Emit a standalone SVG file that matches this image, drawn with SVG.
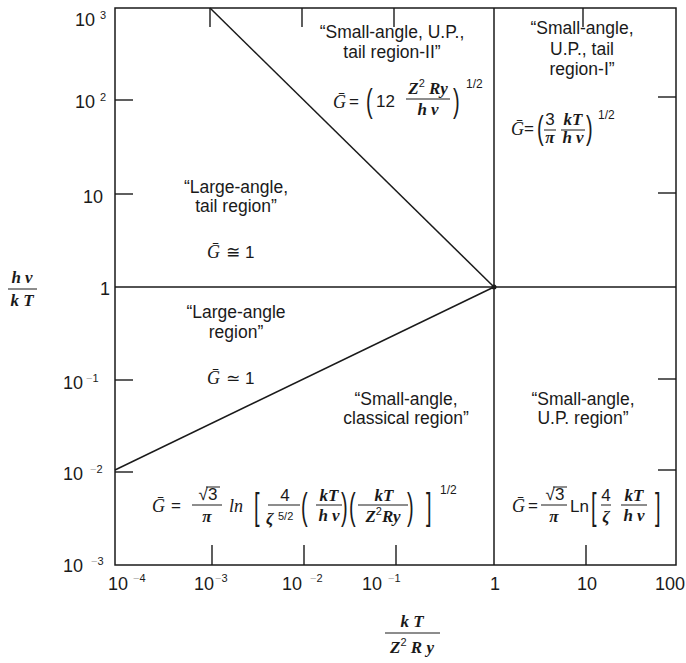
<svg xmlns="http://www.w3.org/2000/svg" width="686" height="663" viewBox="0 0 686 663">
<style>
.ln{stroke:#1a1a1a;stroke-width:1.5;fill:none}
.tk line{stroke:#1a1a1a;stroke-width:1.4}
text{fill:#1a1a1a}
.ax{font-family:"Liberation Sans",Arial,sans-serif;font-size:18px}
.sp{font-family:"Liberation Sans",Arial,sans-serif;font-size:11px}
.fm{fill:#b0b0b0}
.lb{font-family:"Liberation Sans",Arial,sans-serif;font-size:17.5px;text-anchor:middle}
.mi{font-family:"Liberation Serif","Times New Roman",serif;font-style:italic;font-weight:bold;font-size:17px}
.g{font-family:"Liberation Serif","DejaVu Serif",serif;font-style:italic;font-size:18px}
.n{font-family:"Liberation Sans","DejaVu Sans",sans-serif;font-size:17px}
.c{text-anchor:middle}
.br{font-family:"Liberation Sans",Arial,sans-serif;font-size:20px}
.ex{font-family:"Liberation Sans",Arial,sans-serif;font-size:11px;font-style:normal;font-weight:normal}
.fl{stroke:#1a1a1a;stroke-width:1}
</style>

<g id="frame">
<rect x="115" y="8" width="561" height="557" class="ln"/>
</g>

<g id="connectors" class="ln">
<line x1="494" y1="8" x2="494" y2="565"/>
<line x1="115" y1="287" x2="676" y2="287"/>
<line x1="210" y1="8" x2="494" y2="287"/>
<line x1="115" y1="470" x2="494" y2="287"/>
<circle cx="494" cy="287" r="2.5" fill="#1a1a1a" stroke="none"/>
</g>

<g id="ticks" class="tk">
<line x1="115" y1="100" x2="133" y2="100"/>
<line x1="115" y1="194" x2="133" y2="194"/>
<line x1="115" y1="380" x2="133" y2="380"/>
<line x1="115" y1="472" x2="133" y2="472"/>
<line x1="676" y1="97" x2="658" y2="97"/>
<line x1="676" y1="193" x2="658" y2="193"/>
<line x1="676" y1="379" x2="658" y2="379"/>
<line x1="676" y1="470" x2="658" y2="470"/>
<line x1="210" y1="8" x2="210" y2="27"/>
<line x1="302" y1="8" x2="302" y2="27"/>
<line x1="394" y1="8" x2="394" y2="27"/>
<line x1="583" y1="8" x2="583" y2="27"/>
<line x1="212" y1="565" x2="212" y2="545"/>
<line x1="304" y1="565" x2="304" y2="545"/>
<line x1="396" y1="565" x2="396" y2="545"/>
<line x1="586" y1="565" x2="586" y2="545"/>
</g>

<g id="y-axis-labels">
<text class="ax" x="75" y="26">10</text><text class="sp" x="100" y="19">3</text>
<text class="ax" x="75" y="108">10</text><text class="sp" x="100" y="101">2</text>
<text class="ax" x="83" y="203">10</text>
<text class="ax" x="100" y="295">1</text>
<text class="ax" x="63" y="389">10</text><text class="sp" x="86" y="382"><tspan class="fm">−</tspan>1</text>
<text class="ax" x="63" y="480">10</text><text class="sp" x="90" y="473"><tspan class="fm">−</tspan>2</text>
<text class="ax" x="63" y="572">10</text><text class="sp" x="91" y="565"><tspan class="fm">−</tspan>3</text>
</g>

<g id="x-axis-labels">
<text class="ax" x="108" y="590">10</text><text class="sp" x="133" y="582"><tspan class="fm">−</tspan>4</text>
<text class="ax" x="194" y="590">10</text><text class="sp" x="215" y="582"><tspan class="fm">−</tspan>3</text>
<text class="ax" x="282" y="590">10</text><text class="sp" x="310" y="582"><tspan class="fm">−</tspan>2</text>
<text class="ax" x="362" y="590">10</text><text class="sp" x="388" y="582"><tspan class="fm">−</tspan>1</text>
<text class="ax" x="490" y="590">1</text>
<text class="ax" x="577" y="590">10</text>
<text class="ax" x="655" y="590">100</text>
</g>

<g id="y-axis-title">
<text class="mi c" x="22" y="283">h ν</text>
<line class="fl" x1="8" y1="289" x2="37" y2="289"/>
<text class="mi c" x="22" y="306">k T</text>
</g>

<g id="x-axis-title">
<text class="mi c" x="412" y="627">k T</text>
<line class="fl" x1="385" y1="633" x2="440" y2="633"/>
<text class="mi c" x="412" y="653">Z<tspan class="ex" dy="-7">2</tspan><tspan dy="7"> R y</tspan></text>
</g>

<g id="region-small-angle-up-tail-II">
<text class="lb" x="392" y="38">“Small-angle, U.P.,</text>
<text class="lb" x="392" y="58">tail region-II”</text>
<text class="g" x="333" y="108">Ḡ</text>
<text class="n" x="349" y="107">=</text>
<text class="br" transform="translate(366,112) scale(1,1.7)">(</text>
<text class="n" x="376" y="107">12</text>
<text class="mi c" x="428" y="94">Z<tspan class="ex" dy="-7">2</tspan><tspan dy="7"> Ry</tspan></text>
<line class="fl" x1="406" y1="99" x2="450" y2="99"/>
<text class="mi c" x="428" y="115">h ν</text>
<text class="br" transform="translate(453,112) scale(1,1.7)">)</text>
<text class="ex" x="466" y="88" style="font-size:12px">1/2</text>
</g>

<g id="region-small-angle-up-tail-I">
<text class="lb" x="582" y="34">“Small-angle,</text>
<text class="lb" x="582" y="55">U.P., tail</text>
<text class="lb" x="582" y="75">region-I”</text>
<text class="g" x="511" y="135">Ḡ</text>
<text class="n" x="524" y="134">=</text>
<text class="br" transform="translate(537,139) scale(1,1.7)">(</text>
<text class="n c" x="550" y="125">3</text>
<line class="fl" x1="544" y1="130" x2="556" y2="130"/>
<text class="mi c" x="550" y="143">π</text>
<text class="mi c" x="573" y="125">kT</text>
<line class="fl" x1="561" y1="130" x2="585" y2="130"/>
<text class="mi c" x="573" y="143">h ν</text>
<text class="br" transform="translate(586,139) scale(1,1.7)">)</text>
<text class="ex" x="598" y="119" style="font-size:12px">1/2</text>
</g>

<g id="region-large-angle-tail">
<text class="lb" x="236" y="193">“Large-angle,</text>
<text class="lb" x="236" y="212">tail region”</text>
<text x="207" y="258"><tspan class="g">Ḡ</tspan><tspan class="n" dx="6">≅ 1</tspan></text>
</g>

<g id="region-large-angle">
<text class="lb" x="236" y="318">“Large-angle</text>
<text class="lb" x="236" y="338">region”</text>
<text x="207" y="384"><tspan class="g">Ḡ</tspan><tspan class="n" dx="6">≃ 1</tspan></text>
</g>

<g id="region-small-angle-classical">
<text class="lb" x="406" y="405">“Small-angle,</text>
<text class="lb" x="406" y="424">classical region”</text>
<text class="g" x="152" y="512">Ḡ</text>
<text class="n" x="171" y="511">=</text>
<text class="n c" x="208" y="500">√3</text>
<line class="fl" x1="206" y1="487" x2="220" y2="487"/>
<line class="fl" x1="192" y1="505" x2="222" y2="505"/>
<text class="mi c" x="207" y="522">π</text>
<text class="g" x="229" y="512">ln</text>
<text class="br" transform="translate(254,519) scale(1,1.8)">[</text>
<text class="n c" x="285" y="501">4</text>
<line class="fl" x1="268" y1="505" x2="300" y2="505"/>
<text class="mi" x="266" y="524">ζ</text>
<text class="ex" x="278" y="520">5/2</text>
<text class="br" transform="translate(301,519) scale(1,1.8)">(</text>
<text class="mi c" x="329" y="501">kT</text>
<line class="fl" x1="316" y1="505" x2="342" y2="505"/>
<text class="mi c" x="329" y="521">h ν</text>
<text class="br" transform="translate(341,519) scale(1,1.8)">)</text>
<text class="br" transform="translate(349,519) scale(1,1.8)">(</text>
<text class="mi c" x="384" y="501">kT</text>
<line class="fl" x1="358" y1="505" x2="408" y2="505"/>
<text class="mi c" x="383" y="522">Z<tspan class="ex" dy="-7">2</tspan><tspan dy="7">Ry</tspan></text>
<text class="br" transform="translate(407,519) scale(1,1.8)">)</text>
<text class="br" transform="translate(426,519) scale(1,1.8)">]</text>
<text class="ex" x="440" y="494" style="font-size:12px">1/2</text>
</g>

<g id="region-small-angle-up">
<text class="lb" x="583" y="405">“Small-angle,</text>
<text class="lb" x="583" y="424">U.P. region”</text>
<text class="g" x="512" y="512">Ḡ</text>
<text class="n" x="528" y="511">=</text>
<text class="n c" x="555" y="500">√3</text>
<line class="fl" x1="553" y1="487" x2="567" y2="487"/>
<line class="fl" x1="541" y1="505" x2="567" y2="505"/>
<text class="mi c" x="554" y="522">π</text>
<text class="n" x="570" y="512">Ln</text>
<text class="br" transform="translate(591,519) scale(1,1.8)">[</text>
<text class="n c" x="606" y="501">4</text>
<line class="fl" x1="601" y1="505" x2="611" y2="505"/>
<text class="mi c" x="606" y="522">ζ</text>
<text class="mi c" x="634" y="501">kT</text>
<line class="fl" x1="621" y1="505" x2="647" y2="505"/>
<text class="mi c" x="634" y="521">h ν</text>
<text class="br" transform="translate(655,519) scale(1,1.8)">]</text>
</g>
</svg>
